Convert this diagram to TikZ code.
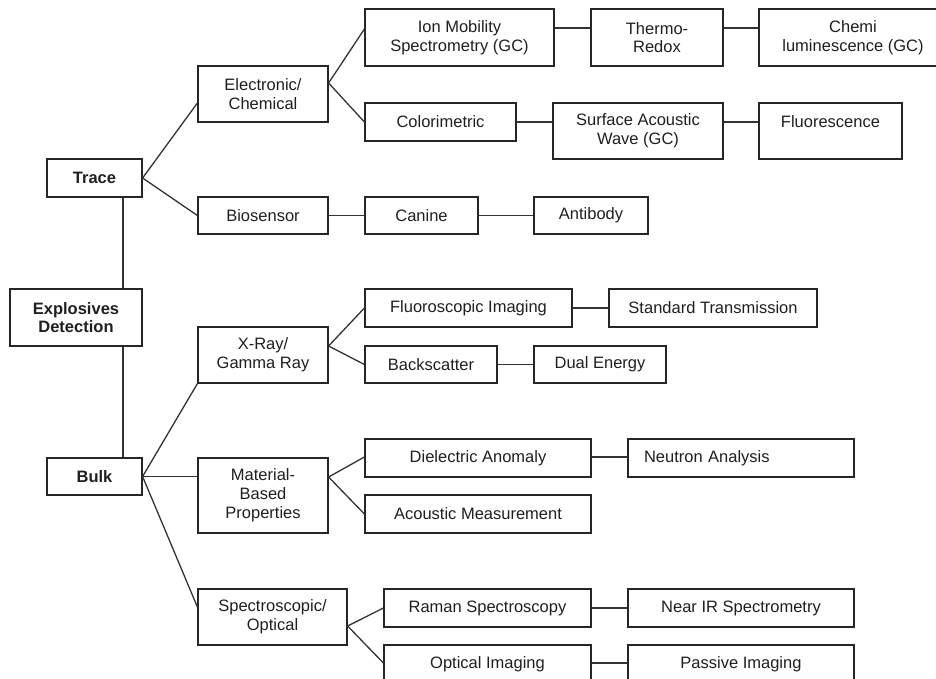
\documentclass[tikz,border=0pt]{standalone}
\usepackage{fontspec}
\setmainfont{Liberation Sans}
\begin{document}
\begin{tikzpicture}[x=1pt,y=-1pt,
  box/.style={draw=black!85, line width=1.2pt, inner sep=0pt, align=center,
    text=black!88, font=\fontsize{16.5}{18.8}\selectfont},
  bbox/.style={box, font=\fontsize{16.5}{18.8}\selectfont\bfseries},
  link/.style={draw=black!80, line width=1.3pt}]
\useasboundingbox (0,0) rectangle (936,678);
\clip (0,0) rectangle (936,678);
% level 0/1
\node[bbox, minimum width=132pt, minimum height=57pt] (expl) at (76,317.5) {Explosives\\Detection};
\node[bbox, minimum width=95pt, minimum height=38pt] (trace) at (94.5,178) {Trace};
\node[bbox, minimum width=95pt, minimum height=37pt] (bulk) at (94.5,476.5) {Bulk};
% level 2
\node[box, minimum width=130pt, minimum height=56pt] (elec) at (263,94) {Electronic/\\Chemical};
\node[box, minimum width=130pt, minimum height=37pt] (bio) at (263,215.5) {Biosensor};
\node[box, minimum width=130pt, minimum height=56pt] (xray) at (263,355) {X-Ray/\\Gamma Ray};
\node[box, minimum width=130pt, minimum height=75pt] (mat) at (263,495.5) {Material-\\Based\\Properties};
\node[box, minimum width=149pt, minimum height=56pt] (spec) at (272.5,617) {Spectroscopic/\\Optical};
% trace branch
\node[box, minimum width=189pt, minimum height=57pt] (ion) at (459.5,37.5) {Ion Mobility\\Spectrometry (GC)};
\node[box, minimum width=132pt, minimum height=57pt] (thermo) at (657,37.5) {Thermo-\\Redox};
\node[box, minimum width=188pt, minimum height=57pt] (chemi) at (853,37.5) {Chemi\\luminescence (GC)};
\node[box, minimum width=151pt, minimum height=38pt] (color) at (440.5,122) {Colorimetric};
\node[box, minimum width=170pt, minimum height=56pt] (saw) at (638,131) {Surface Acoustic\\Wave (GC)};
\node[box, minimum width=143pt, minimum height=56pt] (fluor) at (830.5,131) {Fluorescence\\\phantom{X}};
\node[box, minimum width=113pt, minimum height=37pt] (canine) at (421.5,215.5) {Canine};
\node[box, minimum width=114pt, minimum height=37pt] (antibody) at (591,215.5) {Antibody};
% bulk branch
\node[box, minimum width=207pt, minimum height=38pt] (fluoro) at (468.5,308) {Fluoroscopic Imaging};
\node[box, minimum width=208pt, minimum height=38pt] (stdtrans) at (713,308) {Standard Transmission};
\node[box, minimum width=132pt, minimum height=37pt] (back) at (431,364.5) {Backscatter};
\node[box, minimum width=132pt, minimum height=37pt] (dual) at (600,364.5) {Dual Energy};
\node[box, minimum width=226pt, minimum height=38pt] (diel) at (478,458) {Dielectric Anomaly};
\node[box, minimum width=226pt, minimum height=38pt, text width=194pt, align=left] (neutron) at (741,458) {Neutron Analysis};
\node[box, minimum width=226pt, minimum height=38pt] (acoustic) at (478,514) {Acoustic Measurement};
\node[box, minimum width=207pt, minimum height=38pt] (raman) at (487.5,608) {Raman Spectroscopy};
\node[box, minimum width=226pt, minimum height=38pt] (nearir) at (741,608) {Near IR Spectrometry};
\node[box, minimum width=207pt, minimum height=38pt] (optical) at (487.5,664) {Optical Imaging};
\node[box, minimum width=226pt, minimum height=38pt] (passive) at (741,664) {Passive Imaging};
% connectors
\draw[link] ([xshift=28.5pt]trace.south) -- ([xshift=28.5pt]trace.south |- expl.north);
\draw[link] ([xshift=28.5pt]bulk.north) -- ([xshift=28.5pt]bulk.north |- expl.south);
\draw[link] ([yshift=-9pt]elec.west) -- (trace.east) -- (bio.west);
\draw[link] ([yshift=8.5pt]ion.west) -- ([yshift=11pt]elec.east) -- (color.west);
\draw[link] ([yshift=9.5pt]ion.east) -- ([yshift=9.5pt]ion.east -| thermo.west);
\draw[link] ([yshift=9.5pt]thermo.east) -- ([yshift=9.5pt]thermo.east -| chemi.west);
\draw[link] (color.east) -- (color.east -| saw.west);
\draw[link] ([yshift=9pt]saw.east) -- ([yshift=9pt]saw.east -| fluor.west);
\draw[link] (bio.east) -- (canine.west);
\draw[link] (canine.east) -- (antibody.west);
\draw[link] (xray.south west) -- (bulk.east) -- ([yshift=10pt]spec.west);
\draw[link] (bulk.east) -- (bulk.east -| mat.west);
\draw[link] (fluoro.west) -- ([yshift=9pt]xray.east) -- (back.west);
\draw[link] (fluoro.east) -- (stdtrans.west);
\draw[link] (back.east) -- (dual.west);
\draw[link] ([yshift=1pt]diel.west) -- ([yshift=18.5pt]mat.east) -- (acoustic.west);
\draw[link] ([yshift=1pt]diel.east) -- ([yshift=1pt]diel.east -| neutron.west);
\draw[link] (raman.west) -- ([yshift=-9pt]spec.east) -- ([yshift=1pt]optical.west);
\draw[link] (raman.east) -- (nearir.west);
\draw[link] ([yshift=1pt]optical.east) -- ([yshift=1pt]optical.east -| passive.west);
\end{tikzpicture}
\end{document}
